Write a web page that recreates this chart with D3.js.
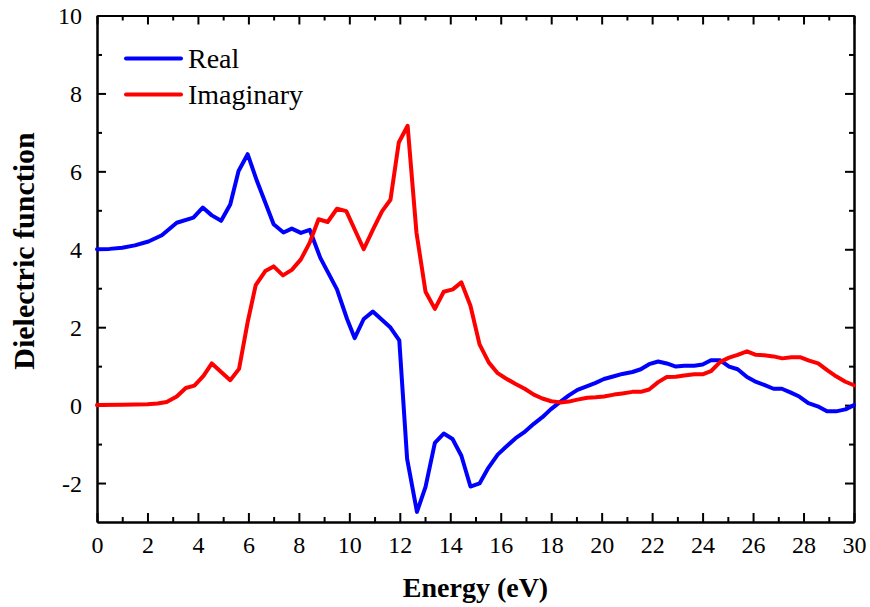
<!DOCTYPE html>
<html>
<head>
<meta charset="utf-8">
<script src="https://cdn.jsdelivr.net/npm/d3@7/dist/d3.min.js"></script>
<style>
  html, body { margin: 0; padding: 0; background: #fff; }
  svg { display: block; }
  text { font-family: "Liberation Serif", "Times New Roman", serif; fill: #000; }
</style>
</head>
<body>
<svg id="chart" width="870" height="607"></svg>
<script>
// Real part of the dielectric function: photon energy (eV) and value
const realEnergy = [0, 0.5, 1.0, 1.5, 2.04, 2.57, 3.16, 3.82, 4.19, 4.55,
  4.92, 5.28, 5.61, 5.97, 6.34, 7.0, 7.39, 7.72, 8.08, 8.43,
  8.85, 9.51, 9.91, 10.21, 10.57, 10.93, 11.63, 11.98, 12.29, 12.68,
  13.02, 13.39, 13.74, 14.09, 14.44, 14.80, 15.16, 15.51, 15.88, 16.19,
  16.59, 16.92, 17.31, 17.65, 17.98, 18.37, 18.70, 19.04, 19.43, 19.76,
  20.09, 20.49, 20.82, 21.22, 21.55, 21.88, 22.24, 22.58, 22.94, 23.27,
  23.67, 24.0, 24.33, 24.70, 25.05, 25.39, 25.76, 26.07, 26.44, 26.81,
  27.14, 27.50, 27.83, 28.19, 28.56, 28.93, 29.29, 29.66, 30.0];
const realValue = [4.0, 4.01, 4.04, 4.1, 4.2, 4.36, 4.68, 4.81, 5.07, 4.87,
  4.73, 5.15, 6.01, 6.44, 5.75, 4.64, 4.43, 4.53, 4.42, 4.50,
  3.78, 2.97, 2.21, 1.72, 2.21, 2.40, 1.99, 1.66, -1.38, -2.74,
  -2.10, -0.97, -0.73, -0.87, -1.30, -2.09, -2.01, -1.61, -1.27, -1.08,
  -0.85, -0.70, -0.48, -0.31, -0.11, 0.09, 0.25, 0.39, 0.49, 0.57,
  0.67, 0.74, 0.80, 0.85, 0.92, 1.05, 1.12, 1.07, 0.99, 1.01,
  1.01, 1.04, 1.15, 1.15, 0.99, 0.92, 0.72, 0.61, 0.52, 0.42,
  0.42, 0.32, 0.22, 0.05, -0.03, -0.16, -0.16, -0.11, 0.0];

// Imaginary part of the dielectric function
const imagEnergy = [0, 1, 2, 2.4, 2.76, 3.16, 3.52, 3.86, 4.22, 4.55,
  4.92, 5.28, 5.63, 5.98, 6.29, 6.67, 7.0, 7.37, 7.72, 8.08,
  8.43, 8.78, 9.14, 9.51, 9.88, 10.24, 10.57, 10.94, 11.30, 11.63,
  11.96, 12.31, 12.66, 13.02, 13.39, 13.74, 14.10, 14.44, 14.80, 15.16,
  15.53, 15.88, 16.19, 16.59, 16.95, 17.31, 17.65, 18.0, 18.37, 18.70,
  19.04, 19.43, 19.76, 20.09, 20.49, 20.82, 21.22, 21.55, 21.88, 22.24,
  22.58, 22.94, 23.27, 23.67, 24.0, 24.33, 24.70, 25.05, 25.39, 25.76,
  26.11, 26.44, 26.81, 27.16, 27.52, 27.86, 28.22, 28.58, 28.95, 29.29,
  29.66, 30.0];
const imagValue = [0, 0.01, 0.02, 0.04, 0.08, 0.22, 0.44, 0.50, 0.75, 1.07,
  0.85, 0.64, 0.93, 2.16, 3.08, 3.44, 3.56, 3.33, 3.47, 3.74,
  4.17, 4.77, 4.70, 5.04, 4.98, 4.47, 4.0, 4.51, 4.98, 5.27,
  6.74, 7.17, 4.43, 2.91, 2.47, 2.91, 2.97, 3.15, 2.55, 1.56,
  1.09, 0.82, 0.69, 0.54, 0.42, 0.27, 0.17, 0.10, 0.07, 0.09,
  0.14, 0.19, 0.20, 0.22, 0.27, 0.30, 0.34, 0.34, 0.40, 0.59,
  0.72, 0.73, 0.76, 0.79, 0.79, 0.87, 1.11, 1.22, 1.29, 1.38,
  1.29, 1.28, 1.25, 1.20, 1.23, 1.23, 1.14, 1.07, 0.89, 0.74,
  0.60, 0.51];

const seriesNames = ["Real", "Imaginary"];
const seriesColors = ["#0000ff", "#ff0000"];

// Axis ticks
const xMajorTicks = d3.range(0, 31, 2);
const xMinorTicks = d3.range(1, 30, 2);
const yMajorTicks = d3.range(-2, 11, 2);
const yMinorTicks = d3.range(-1, 10, 2);

const svg = d3.select("#chart");
const plotLeft = 97, plotRight = 854, plotTop = 15.5, plotBottom = 522;

const x = d3.scaleLinear().domain([0, 30]).range([plotLeft, plotRight]);
const y = d3.scaleLinear().domain([-3, 10]).range([plotBottom, plotTop]);

// Plain hyphen-minus for negative labels
const tickLabel = d => String(d);

function styleAxis(g) {
  g.selectAll(".domain").attr("stroke", "#000").attr("stroke-width", 2);
  g.selectAll(".tick line").attr("stroke", "#000").attr("stroke-width", 2);
}

// Bottom axis with labels, inward ticks
const gx = svg.append("g")
  .attr("transform", `translate(0,${plotBottom})`)
  .call(d3.axisBottom(x).tickValues(xMajorTicks).tickSize(-9).tickSizeOuter(0).tickFormat(tickLabel))
  .call(styleAxis);
gx.selectAll(".tick text")
  .attr("y", 31).attr("dy", 0)
  .style("font-size", "24px").style("font-family", "'Liberation Serif', serif");
svg.append("g")
  .attr("transform", `translate(0,${plotBottom})`)
  .call(d3.axisBottom(x).tickValues(xMinorTicks).tickSize(-5).tickSizeOuter(0).tickFormat(""))
  .call(styleAxis);

// Top axis, ticks only
svg.append("g")
  .attr("transform", `translate(0,${plotTop})`)
  .call(d3.axisTop(x).tickValues(xMajorTicks).tickSize(-9).tickSizeOuter(0).tickFormat(""))
  .call(styleAxis);
svg.append("g")
  .attr("transform", `translate(0,${plotTop})`)
  .call(d3.axisTop(x).tickValues(xMinorTicks).tickSize(-5).tickSizeOuter(0).tickFormat(""))
  .call(styleAxis);

// Left axis with labels
const gy = svg.append("g")
  .attr("transform", `translate(${plotLeft},0)`)
  .call(d3.axisLeft(y).tickValues(yMajorTicks).tickSize(-9).tickSizeOuter(0).tickFormat(tickLabel))
  .call(styleAxis);
gy.selectAll(".tick text")
  .attr("x", -15).attr("dy", "0.34em")
  .style("font-size", "24px").style("font-family", "'Liberation Serif', serif");
gy.selectAll(".tick").filter(d => d === 10).select("line").remove();
svg.append("g")
  .attr("transform", `translate(${plotLeft},0)`)
  .call(d3.axisLeft(y).tickValues(yMinorTicks).tickSize(-5).tickSizeOuter(0).tickFormat(""))
  .call(styleAxis);

// Right axis, ticks only
svg.append("g")
  .attr("transform", `translate(${plotRight},0)`)
  .call(d3.axisRight(y).tickValues(yMajorTicks).tickSize(-9).tickSizeOuter(0).tickFormat(""))
  .call(styleAxis);
svg.append("g")
  .attr("transform", `translate(${plotRight},0)`)
  .call(d3.axisRight(y).tickValues(yMinorTicks).tickSize(-5).tickSizeOuter(0).tickFormat(""))
  .call(styleAxis);

// Curves
const line = d3.line().x(d => x(d[0])).y(d => y(d[1]));
const series = [
  realEnergy.map((e, i) => [e, realValue[i]]),
  imagEnergy.map((e, i) => [e, imagValue[i]])
];
series.forEach((pts, i) => {
  svg.append("path")
    .datum(pts)
    .attr("d", line)
    .attr("fill", "none")
    .attr("stroke", seriesColors[i])
    .attr("stroke-width", 4)
    .attr("stroke-linejoin", "round")
    .attr("stroke-linecap", "round");
});

// Legend
const legend = svg.append("g");
seriesNames.forEach((name, i) => {
  const cy = 58.5 + i * 36;
  legend.append("line")
    .attr("x1", 126).attr("x2", 181)
    .attr("y1", cy).attr("y2", cy)
    .attr("stroke", seriesColors[i]).attr("stroke-width", 4)
    .attr("stroke-linecap", "round");
  legend.append("text")
    .attr("x", 188).attr("y", cy + 9)
    .style("font-size", "28px")
    .text(name);
});

// Axis titles
svg.append("text")
  .attr("x", (plotLeft + plotRight) / 2).attr("y", 597)
  .attr("text-anchor", "middle")
  .style("font-size", "28px").style("font-weight", "bold")
  .text("Energy (eV)");
svg.append("text")
  .attr("transform", `translate(34,251) rotate(-90)`)
  .attr("text-anchor", "middle")
  .style("font-size", "30px").style("font-weight", "bold")
  .text("Dielectric function");
</script>
</body>
</html>
